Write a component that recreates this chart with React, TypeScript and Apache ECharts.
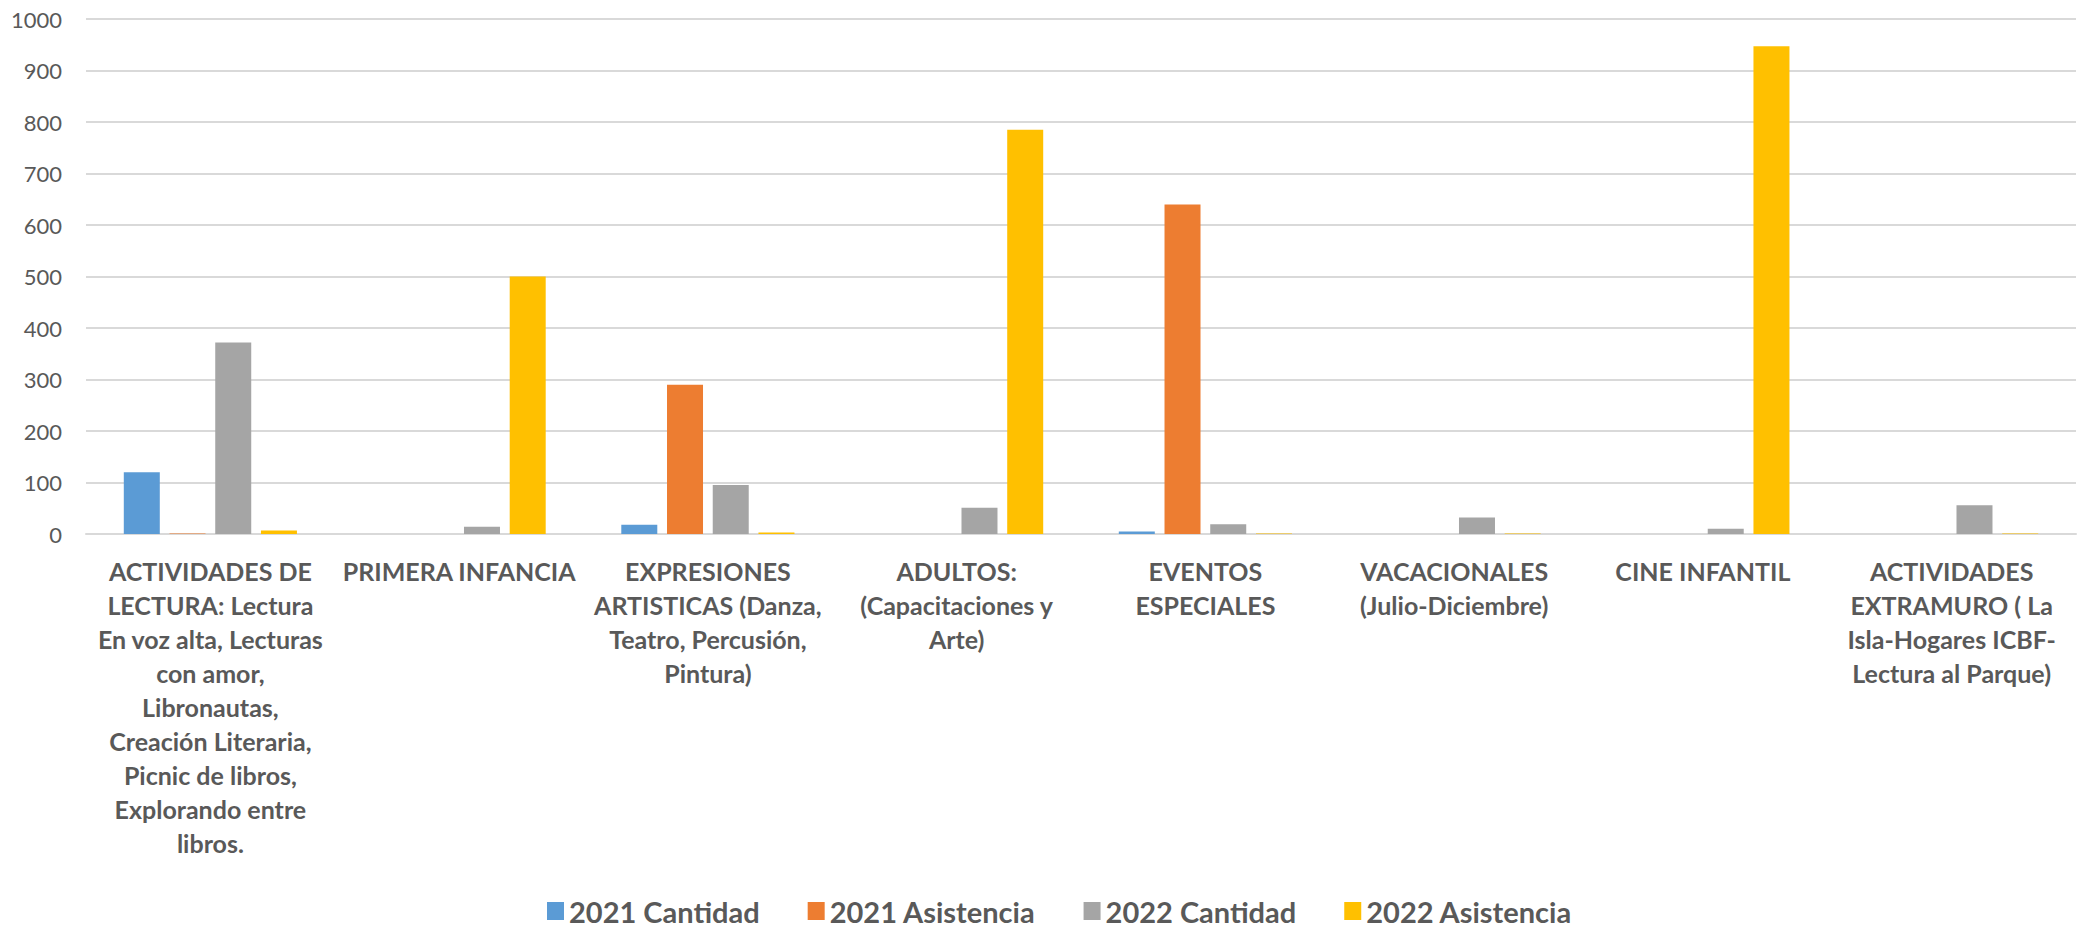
import React, { useEffect, useRef } from "react";
import * as echarts from "echarts";

const categories: string[] = [
  "ACTIVIDADES DE\nLECTURA: Lectura\nEn voz alta, Lecturas\ncon amor,\nLibronautas,\nCreación Literaria,\nPicnic de libros,\nExplorando entre\nlibros.",
  "PRIMERA INFANCIA",
  "EXPRESIONES\nARTISTICAS (Danza,\nTeatro, Percusión,\nPintura)",
  "ADULTOS:\n(Capacitaciones y\nArte)",
  "EVENTOS\nESPECIALES",
  "VACACIONALES\n(Julio-Diciembre)",
  "CINE INFANTIL",
  "ACTIVIDADES\nEXTRAMURO ( La\nIsla-Hogares ICBF-\nLectura al Parque)",
];

const seriesNames = ["2021 Cantidad", "2021 Asistencia", "2022 Cantidad", "2022 Asistencia"];
const cantidad2021 = [120, 0, 18, 0, 5, 0, 0, 0];
const asistencia2021 = [1, 0, 290, 0, 640, 0, 0, 0];
const cantidad2022 = [372, 14, 95, 51, 19, 32, 10, 56];
const asistencia2022 = [7, 500, 3, 785, 1, 1, 947, 1];
const colors = ["#5B9BD5", "#ED7D31", "#A5A5A5", "#FFC000"];

const FONT = "Lato, 'Open Sans', sans-serif";

export default function App() {
  const ref = useRef<HTMLDivElement>(null);
  useEffect(() => {
    if (!ref.current) return;
    const chart = echarts.init(ref.current, null, { renderer: "svg" });
    const values = [cantidad2021, asistencia2021, cantidad2022, asistencia2022];
    chart.setOption({
      animation: false,
      backgroundColor: "#ffffff",
      textStyle: { fontFamily: FONT },
      grid: { left: 86, right: 2, top: 19, bottom: 400, containLabel: false },
      legend: {
        data: seriesNames,
        left: 547,
        top: 895,
        padding: 0,
        itemWidth: 17,
        itemHeight: 18,
        itemGap: 48,
        icon: "rect",
        textStyle: {
          fontFamily: FONT,
          fontSize: 29,
          lineHeight: 32,
          fontWeight: "bold",
          color: "#595959",
        },
      },
      xAxis: {
        type: "category",
        data: categories,
        axisLine: { show: true, lineStyle: { color: "#d9d9d9", width: 2 } },
        axisTick: { show: false },
        axisLabel: {
          interval: 0,
          margin: 20,
          color: "#595959",
          fontFamily: FONT,
          fontWeight: "bold",
          fontSize: 25,
          lineHeight: 34,
          align: "center",
        },
      },
      yAxis: {
        type: "value",
        min: 0,
        max: 1000,
        interval: 100,
        axisLine: { show: false },
        axisTick: { show: false },
        axisLabel: {
          color: "#595959",
          fontFamily: FONT,
          fontSize: 22,
          margin: 24,
          formatter: (v: number) => String(v),
        },
        splitLine: { lineStyle: { color: "#d9d9d9", width: 2 } },
      },
      series: seriesNames.map((name, i) => ({
        name,
        type: "bar",
        data: values[i],
        barWidth: 36,
        barGap: "27%",
        itemStyle: { color: colors[i] },
      })),
    });
    return () => chart.dispose();
  }, []);
  return (
    <div
      ref={ref}
      style={{ position: "fixed", left: 0, top: 0, width: 2078, height: 934, background: "#fff" }}
    />
  );
}
